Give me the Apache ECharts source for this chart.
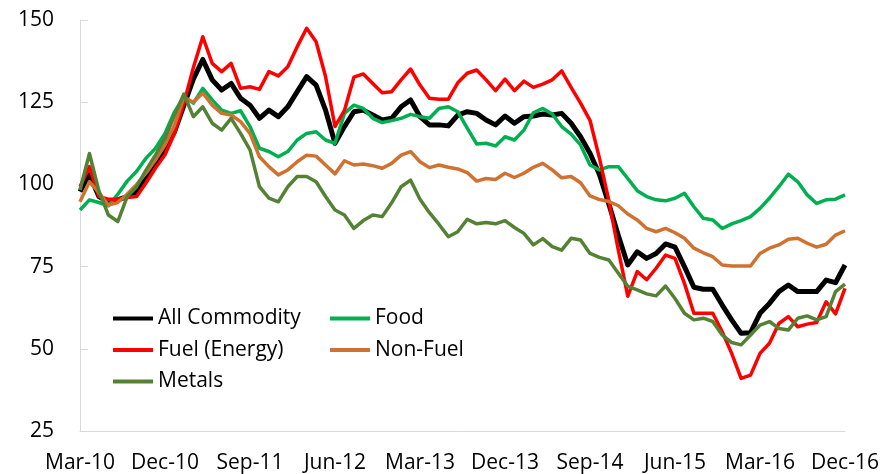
<!DOCTYPE html>
<html>
<head>
<meta charset="utf-8">
<script src="https://cdn.jsdelivr.net/npm/echarts@6/dist/echarts.min.js"></script>
<style>
  html, body { margin: 0; padding: 0; background: #fff; }
  #chart { width: 883px; height: 474px; }
</style>
</head>
<body>
<div id="chart"></div>
<script>
const months = [
  'Mar-10','Apr-10','May-10','Jun-10','Jul-10','Aug-10','Sep-10','Oct-10','Nov-10','Dec-10',
  'Jan-11','Feb-11','Mar-11','Apr-11','May-11','Jun-11','Jul-11','Aug-11','Sep-11','Oct-11','Nov-11','Dec-11',
  'Jan-12','Feb-12','Mar-12','Apr-12','May-12','Jun-12','Jul-12','Aug-12','Sep-12','Oct-12','Nov-12','Dec-12',
  'Jan-13','Feb-13','Mar-13','Apr-13','May-13','Jun-13','Jul-13','Aug-13','Sep-13','Oct-13','Nov-13','Dec-13',
  'Jan-14','Feb-14','Mar-14','Apr-14','May-14','Jun-14','Jul-14','Aug-14','Sep-14','Oct-14','Nov-14','Dec-14',
  'Jan-15','Feb-15','Mar-15','Apr-15','May-15','Jun-15','Jul-15','Aug-15','Sep-15','Oct-15','Nov-15','Dec-15',
  'Jan-16','Feb-16','Mar-16','Apr-16','May-16','Jun-16','Jul-16','Aug-16','Sep-16','Oct-16','Nov-16','Dec-16'
];

const allCommodity = [
  97.8, 102.9, 96.3, 94.7, 95.3, 96.3, 97.8, 102.4, 106.4, 110.5,
  116, 124, 132, 138, 131.8, 128.7, 130.7, 126.2, 124.1, 120.1, 122.6, 120.6,
  123.6, 128.2, 132.8, 130.2, 122.6, 112.5, 117.6, 122.1, 122.6, 121.1, 119.6, 120.1,
  123.6, 125.7, 120.6, 118.1, 118.1, 117.8, 121.1, 122.1, 121.6, 119.6, 118.1, 120.8,
  118.6, 120.6, 120.8, 121.4, 121.1, 121.6, 118.6, 114.5, 109.5, 103, 94, 84.5,
  75.5, 79.5, 77.5, 79, 81.9, 80.9, 75, 68.7, 68.1, 68.1, 63.3, 58.8,
  54.7, 54.9, 60.8, 63.8, 67.4, 69.4, 67.4, 67.4, 67.4, 70.9, 70.1, 75.5
];

const food = [
  92.2, 95.3, 94.5, 93.5, 97, 101, 104, 108, 111, 115.5,
  122, 126.7, 124.7, 129.2, 125.7, 122.6, 121.6, 122.4, 117.6, 111, 110, 108.4,
  110, 113.5, 115.5, 116, 113.5, 112.5, 121.6, 124.1, 123.1, 120.1, 118.8, 119.4,
  120.1, 121.3, 120.6, 120.1, 123.1, 123.6, 122.1, 117.1, 112.3, 112.5, 111.7, 114.5,
  113.5, 116.5, 121.8, 123.1, 121.4, 117.6, 115.3, 112, 105.9, 104.4, 105.4, 105.4,
  101.8, 98.1, 96.3, 95.3, 95, 95.8, 97.3, 93.2, 89.7, 89.2, 86.6, 88,
  89, 90.2, 92.7, 95.8, 99.3, 103.1, 100.8, 96.8, 94.2, 95.3, 95.5, 96.8
];

const fuel = [
  99.3, 105.4, 96.3, 95.5, 95.5, 96, 96.3, 100.5, 105, 109,
  115.5, 124.7, 135.5, 144.9, 136.8, 134.3, 136.8, 129.2, 129.7, 128.9, 134.3, 133,
  135.8, 141.9, 147.5, 143.4, 132.8, 117.6, 122.5, 132.6, 133.6, 130.7, 127.9, 128.2,
  131.8, 135.1, 130.2, 126.2, 125.9, 125.9, 130.9, 133.8, 134.8, 131.8, 128.5, 132,
  128.5, 131.4, 129.5, 130.5, 131.8, 134.5, 129.5, 124.7, 119.5, 108, 95, 80,
  66, 73.5, 71, 74.5, 78.5, 77.5, 69.9, 60.8, 60.8, 60.8, 55.2, 48.6,
  41, 42, 48.6, 51.7, 57.7, 59.8, 56.7, 57.5, 58, 64.3, 60.6, 68.4
];

const nonFuel = [
  94.7, 100.8, 97.5, 93.7, 94.5, 97, 100, 103.5, 107.5, 112,
  118, 126.5, 125, 127.8, 124.1, 121.6, 121.1, 119.1, 115.5, 108.4, 105.4, 102.9,
  104.4, 106.9, 108.9, 108.6, 105.9, 103.2, 107.2, 105.9, 106.2, 105.7, 104.9, 106.4,
  108.9, 110, 106.9, 105.1, 105.9, 105.2, 104.7, 103.6, 101, 101.8, 101.5, 103.4,
  102.1, 103.4, 105.2, 106.4, 104.4, 102, 102.4, 100.5, 96.5, 95.4, 94.8, 93.5,
  91, 89.2, 86.6, 85.6, 86.6, 85.3, 83.6, 80.6, 79.2, 78, 75.5, 75.2,
  75.2, 75.2, 79, 80.6, 81.6, 83.3, 83.6, 82.1, 80.9, 81.8, 84.6, 85.9
];

const metals = [
  98.3, 109.4, 98, 90.7, 88.7, 96.3, 99.3, 104.4, 109, 114,
  121, 127.5, 120.6, 123.6, 118.6, 116.5, 120.1, 115.5, 110.5, 99.3, 95.8, 94.7,
  99.3, 102.4, 102.4, 100.8, 96.3, 92.2, 90.7, 86.6, 89, 90.7, 90.2, 94.4,
  99.3, 101.3, 95.5, 91.4, 87.9, 84.1, 85.6, 89.4, 88, 88.4, 88, 89,
  86.9, 85.1, 81.6, 83.5, 81.1, 80, 83.6, 83.1, 79, 77.8, 77, 73,
  69, 67.9, 66.7, 66.1, 69.1, 65.3, 60.8, 58.8, 59.3, 58.3, 54.2, 51.9,
  51.2, 54.2, 57.2, 58.3, 56.2, 55.7, 59.3, 60, 58.8, 59.8, 67.4, 69.7
];

const seriesNames = ['All Commodity', 'Food', 'Fuel (Energy)', 'Non-Fuel', 'Metals'];
const seriesData = [allCommodity, food, fuel, nonFuel, metals];
const seriesColors = ['#000000', '#00b050', '#ff0000', '#d0712f', '#548235'];
const seriesWidths = [5, 3.5, 3.5, 3.5, 3.5];

const font = '"Open Sans", sans-serif';

const chart = echarts.init(document.getElementById('chart'));

// two legend columns, laid out like the original's 2-column key
const legendBase = {
  orient: 'vertical',
  top: 308,
  padding: 0,
  icon: 'rect',
  itemWidth: 40,
  itemHeight: 4,
  itemGap: 10.5,
  textStyle: { fontFamily: font, fontSize: 21, color: '#000', lineHeight: 20 }
};

const option = {
  animation: false,
  grid: { left: 80, right: 38, top: 20, bottom: 43 },
  legend: [
    Object.assign({}, legendBase, { left: 113, data: ['All Commodity', 'Fuel (Energy)', 'Metals'] }),
    Object.assign({}, legendBase, { left: 330, data: ['Food', 'Non-Fuel'] })
  ],
  xAxis: {
    type: 'category',
    boundaryGap: false,
    data: months,
    axisLine: { lineStyle: { color: '#d9d9d9', width: 1 } },
    axisTick: { show: false },
    axisLabel: {
      interval: 8,
      margin: 22,
      fontFamily: font,
      fontSize: 21,
      color: '#000'
    },
    splitLine: { show: false }
  },
  yAxis: {
    type: 'value',
    min: 25,
    max: 150,
    interval: 25,
    axisLine: { show: true, lineStyle: { color: '#d9d9d9', width: 1 } },
    axisTick: { show: true, inside: true, length: 8, lineStyle: { color: '#d9d9d9' } },
    axisLabel: { margin: 26, fontFamily: font, fontSize: 21, color: '#000' },
    splitLine: { show: false }
  },
  series: seriesNames.map((name, i) => ({
    name: name,
    type: 'line',
    data: seriesData[i],
    showSymbol: false,
    color: seriesColors[i],
    lineStyle: { color: seriesColors[i], width: seriesWidths[i], join: 'round' }
  }))
};

chart.setOption(option);
</script>
</body>
</html>
